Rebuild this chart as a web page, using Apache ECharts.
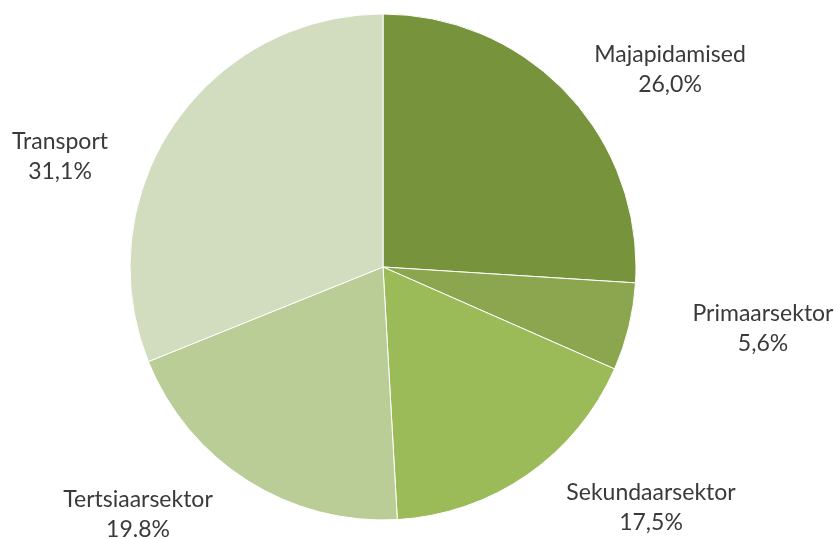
<!DOCTYPE html>
<html><head><meta charset="utf-8">
<script src="https://cdn.jsdelivr.net/npm/echarts@6/dist/echarts.min.js"></script>
<style>html,body{margin:0;padding:0;background:#fff}#c{width:838px;height:539px}</style>
</head><body><div id="c"></div>
<script>
const categories = ['Majapidamised','Primaarsektor','Sekundaarsektor','Tertsiaarsektor','Transport'];
const values = [26.0, 5.6, 17.5, 19.8, 31.1];
const valueLabels = ['26,0%','5,6%','17,5%','19.8%','31,1%'];
const colors = ['#77933C','#8BA64F','#9BBB59','#BBCD97','#D2DDBF'];
// label centre positions (layout)
const labelPos = [[670,70],[763,329],[651,508],[138,515],[60,157]];

// fit font size so that the text width resembles the original (Calibri 24px)
const FONT = 'Lato';
const cv = document.createElement('canvas').getContext('2d');
cv.font = '100px ' + FONT;
const w = cv.measureText('Tertsiaarsektor').width;
const fontSize = Math.max(16, Math.min(26, Math.round(148 * 100 / w * 2) / 2));

const chart = echarts.init(document.getElementById('c'));
chart.setOption({
  animation:false,
  series:[{
    type:'pie',
    center:[383,267],
    radius:[0,253],
    startAngle:90,
    clockwise:true,
    avoidLabelOverlap:false,
    data: categories.map((n,i)=>({name:n,value:values[i],itemStyle:{color:colors[i]}})),
    itemStyle:{borderColor:'#fff',borderWidth:1},
    label:{show:true,position:'outside',
      formatter:(p)=>p.name+'\n'+valueLabels[p.dataIndex],
      color:'#3a3a3a',fontFamily:FONT,fontSize:fontSize,lineHeight:30,align:'center'},
    labelLine:{show:false},
    labelLayout:(p)=>({x:labelPos[p.dataIndex][0],y:labelPos[p.dataIndex][1],align:'center',verticalAlign:'middle'})
  }]
});
</script></body></html>
